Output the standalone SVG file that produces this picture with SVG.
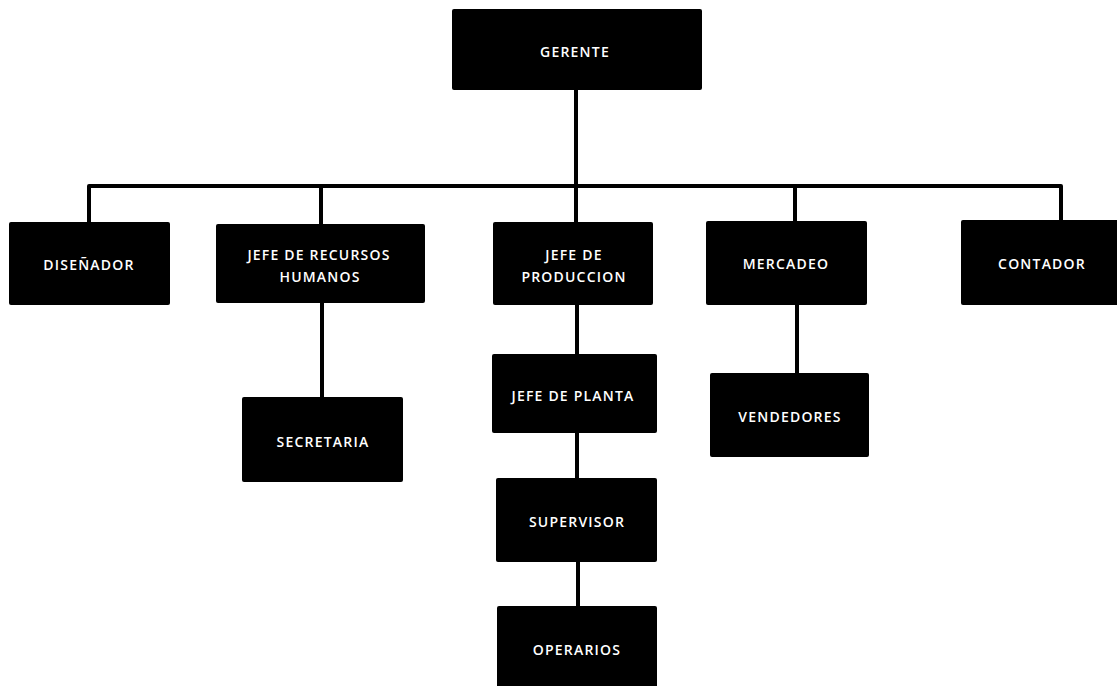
<svg xmlns="http://www.w3.org/2000/svg" width="1117" height="686" viewBox="0 0 1117 686">
  <style>
    .box { fill: #000; }
    .lbl { fill: #fff; font-family: "Open Sans", "Liberation Sans", sans-serif; font-size: 14px; font-weight: 600; text-anchor: middle; letter-spacing: 1.2px; }
    .link { stroke: #000; stroke-width: 4; fill: none; stroke-linejoin: round; }
  </style>
  <rect width="1117" height="686" fill="#fff"/>
  <g id="connectors">
    <path class="link" d="M576 90 V186"/>
    <path class="link" d="M89 222 V186 H1061 V220"/>
    <path class="link" d="M321 186 V225"/>
    <path class="link" d="M576 186 V222"/>
    <path class="link" d="M795 186 V221"/>
    <path class="link" d="M322 303 V397"/>
    <path class="link" d="M577 305 V354"/>
    <path class="link" d="M577 433 V478"/>
    <path class="link" d="M578 562 V606"/>
    <path class="link" d="M797 305 V373"/>
  </g>
  <g id="gerente">
    <rect class="box" x="452" y="9" width="250" height="81" rx="2"/>
    <text class="lbl" x="575" y="57">GERENTE</text>
  </g>
  <g id="disenador">
    <rect class="box" x="9" y="222" width="161" height="83" rx="2"/>
    <text class="lbl" x="89" y="270">DISEÑADOR</text>
  </g>
  <g id="jefe-rrhh">
    <rect class="box" x="216" y="224" width="209" height="79" rx="2"/>
    <text class="lbl" x="319" y="260">JEFE DE RECURSOS</text>
    <text class="lbl" x="320" y="282">HUMANOS</text>
  </g>
  <g id="jefe-produccion">
    <rect class="box" x="493" y="222" width="160" height="83" rx="2"/>
    <text class="lbl" x="574" y="260">JEFE DE</text>
    <text class="lbl" x="574" y="282">PRODUCCION</text>
  </g>
  <g id="mercadeo">
    <rect class="box" x="706" y="221" width="161" height="84" rx="2"/>
    <text class="lbl" x="786" y="269">MERCADEO</text>
  </g>
  <g id="contador">
    <rect class="box" x="961" y="220" width="162" height="85" rx="2"/>
    <text class="lbl" x="1042" y="269">CONTADOR</text>
  </g>
  <g id="secretaria">
    <rect class="box" x="242" y="397" width="161" height="85" rx="2"/>
    <text class="lbl" x="323" y="447">SECRETARIA</text>
  </g>
  <g id="jefe-planta">
    <rect class="box" x="492" y="354" width="165" height="79" rx="2"/>
    <text class="lbl" x="573" y="401">JEFE DE PLANTA</text>
  </g>
  <g id="vendedores">
    <rect class="box" x="710" y="373" width="159" height="84" rx="2"/>
    <text class="lbl" x="790" y="422">VENDEDORES</text>
  </g>
  <g id="supervisor">
    <rect class="box" x="496" y="478" width="161" height="84" rx="2"/>
    <text class="lbl" x="577" y="527">SUPERVISOR</text>
  </g>
  <g id="operarios">
    <rect class="box" x="497" y="606" width="160" height="84" rx="2"/>
    <text class="lbl" x="577" y="655">OPERARIOS</text>
  </g>
</svg>
